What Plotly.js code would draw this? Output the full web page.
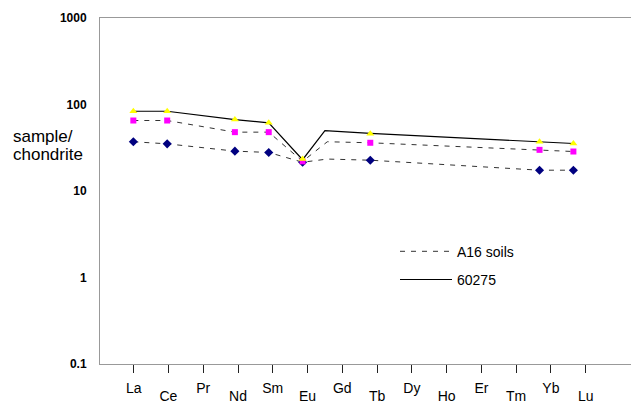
<!DOCTYPE html>
<html>
<head>
<meta charset="utf-8">
<script src="https://cdn.plot.ly/plotly-3.0.1.min.js"></script>
<style>
  html, body { margin: 0; padding: 0; background: #fff; overflow: hidden; width: 631px; height: 403px; }
  #chart { width: 660px; height: 403px; }
</style>
</head>
<body>
<div id="chart"></div>
<script>
// Element order on the x axis (tick labels)
const elements = ['La','Ce','Pr','Nd','Sm','Eu','Gd','Tb','Dy','Ho','Er','Tm','Yb','Lu'];
// Elements with measured values (markers)
const measured = ['La','Ce','Nd','Sm','Eu','Tb','Yb','Lu'];
// Chondrite-normalised values
const rock60275 = [83.6, 83.6, 67.0, 61.4, 23.5, 46.0, 37.1, 35.4];
const soilHigh  = [65.3, 65.3, 47.9, 47.9, 22.0, 36.1, 29.9, 28.6];
const soilLow   = [37.1, 35.1, 28.9, 27.9, 21.5, 22.7, 17.4, 17.4];
// Line traces: measured points plus the drawn point just past Eu
const rockLineX = [1, 2, 4, 5, 6, 6.66, 8, 13, 14];
const rockLine  = [83.6, 83.6, 67.0, 61.4, 23.0, 50.0, 46.3, 37.3, 35.4];
const soilLineX = [1, 2, 4, 5, 6, 6.73, 8, 13, 14];
const soilHighLine = [65.3, 65.3, 47.9, 47.9, 22.0, 37.1, 36.1, 29.9, 28.6];
const soilLowLine  = [37.1, 35.1, 28.9, 27.9, 21.5, 23.4, 22.7, 17.4, 17.4];
const yTicks = [0.1, 1, 10, 100, 1000];
const yTickText = ['0.1', '1', '10', '100', '1000'];

const pos = el => elements.indexOf(el) + 1;
const measuredX = measured.map(pos);
const allPos = elements.map(pos);
const oddPos = allPos.filter((p, i) => i % 2 === 0);
const evenPos = allPos.filter((p, i) => i % 2 === 1);
const oddText = elements.filter((e, i) => i % 2 === 0);
const evenText = elements.filter((e, i) => i % 2 === 1);

const FONT = 'Arial, "Liberation Sans", sans-serif';
const dashStyle = {color: '#333333', width: 1, dash: '5px,6px'};
const PW = 560; // plot-area width in px (extends past the window edge)

const traces = [
  {x: soilLineX, y: soilHighLine, mode: 'lines', line: dashStyle, name: 'A16 soils',
   legendgroup: 'a', showlegend: true, hoverinfo: 'skip'},
  {x: soilLineX, y: soilLowLine, mode: 'lines', line: dashStyle, name: 'A16 soils low',
   legendgroup: 'a', showlegend: false, hoverinfo: 'skip'},
  {x: rockLineX, y: rockLine, mode: 'lines', line: {color: '#000000', width: 1.2}, name: '60275',
   legendgroup: 'b', showlegend: true, hoverinfo: 'skip'},
  {x: measuredX, y: soilLow, mode: 'markers', showlegend: false,
   marker: {symbol: 'diamond', size: 7, color: '#000080'}},
  {x: measuredX, y: soilHigh, mode: 'markers', showlegend: false,
   marker: {symbol: 'square', size: 6, color: '#FF00FF'}},
  {x: measuredX, y: rock60275, mode: 'markers', showlegend: false,
   marker: {symbol: 'triangle-up', size: 7, color: '#FFFF00'}}
];

const tickFont = {family: FONT, size: 14, color: '#000000'};

const layout = {
  width: 660, height: 403,
  margin: {l: 100, r: 0, t: 18, b: 39, pad: 0},
  paper_bgcolor: '#ffffff', plot_bgcolor: '#ffffff',
  font: {family: FONT, color: '#000000'},
  showlegend: true,
  legend: {
    x: 295 / PW, y: 0.3708, xanchor: 'left', yanchor: 'top',
    bgcolor: 'rgba(0,0,0,0)', borderwidth: 0,
    font: {family: FONT, size: 14, color: '#000000'},
    itemwidth: 52, traceorder: 'grouped', tracegroupgap: 7
  },
  xaxis: {
    visible: false, range: [0.015, 0.015 + PW / 33.85], fixedrange: true
  },
  xaxis2: {
    overlaying: 'x', anchor: 'y', side: 'bottom',
    range: [0.031, 0.031 + PW / 34.77], tickmode: 'array', tickvals: oddPos, ticktext: oddText,
    ticks: 'outside', ticklen: 8, tickwidth: 1, tickcolor: '#222222',
    showline: true, linecolor: '#999999', linewidth: 1, mirror: true,
    showgrid: false, zeroline: false, ticklabelstandoff: 3,
    tickfont: tickFont
  },
  xaxis3: {
    overlaying: 'x', anchor: 'y', side: 'bottom',
    range: [0.031, 0.031 + PW / 34.77], tickmode: 'array', tickvals: evenPos, ticktext: evenText,
    ticks: 'outside', ticklen: 8, tickwidth: 1, tickcolor: '#222222',
    showline: false, showgrid: false, zeroline: false, ticklabelstandoff: 11,
    tickfont: tickFont
  },
  yaxis: {
    type: 'log', range: [-1, 3], tickmode: 'array', tickvals: yTicks, ticktext: yTickText,
    showline: true, linecolor: '#999999', linewidth: 1, ticks: '',
    showgrid: false, zeroline: false, ticklabelstandoff: 10,
    tickfont: {family: FONT, size: 12, color: '#000000', weight: 'bold'}
  },
  annotations: [
    {text: 'sample/', xref: 'paper', yref: 'paper', x: -89 / PW, y: 1 - (136.7 - 18) / 346,
     xanchor: 'left', yanchor: 'middle', showarrow: false,
     font: {family: FONT, size: 17, color: '#000000'}},
    {text: 'chondrite', xref: 'paper', yref: 'paper', x: -89 / PW, y: 1 - (155 - 18) / 346,
     xanchor: 'left', yanchor: 'middle', showarrow: false,
     font: {family: FONT, size: 17, color: '#000000'}}
  ]
};

// invisible anchor traces so the tick axes x2/x3 are drawn
traces.push({x: [1], y: [1], xaxis: 'x2', mode: 'markers', marker: {opacity: 0}, showlegend: false, hoverinfo: 'skip'});
traces.push({x: [1], y: [1], xaxis: 'x3', mode: 'markers', marker: {opacity: 0}, showlegend: false, hoverinfo: 'skip'});

Plotly.newPlot('chart', traces, layout, {staticPlot: true, displayModeBar: false});
</script>
</body>
</html>
